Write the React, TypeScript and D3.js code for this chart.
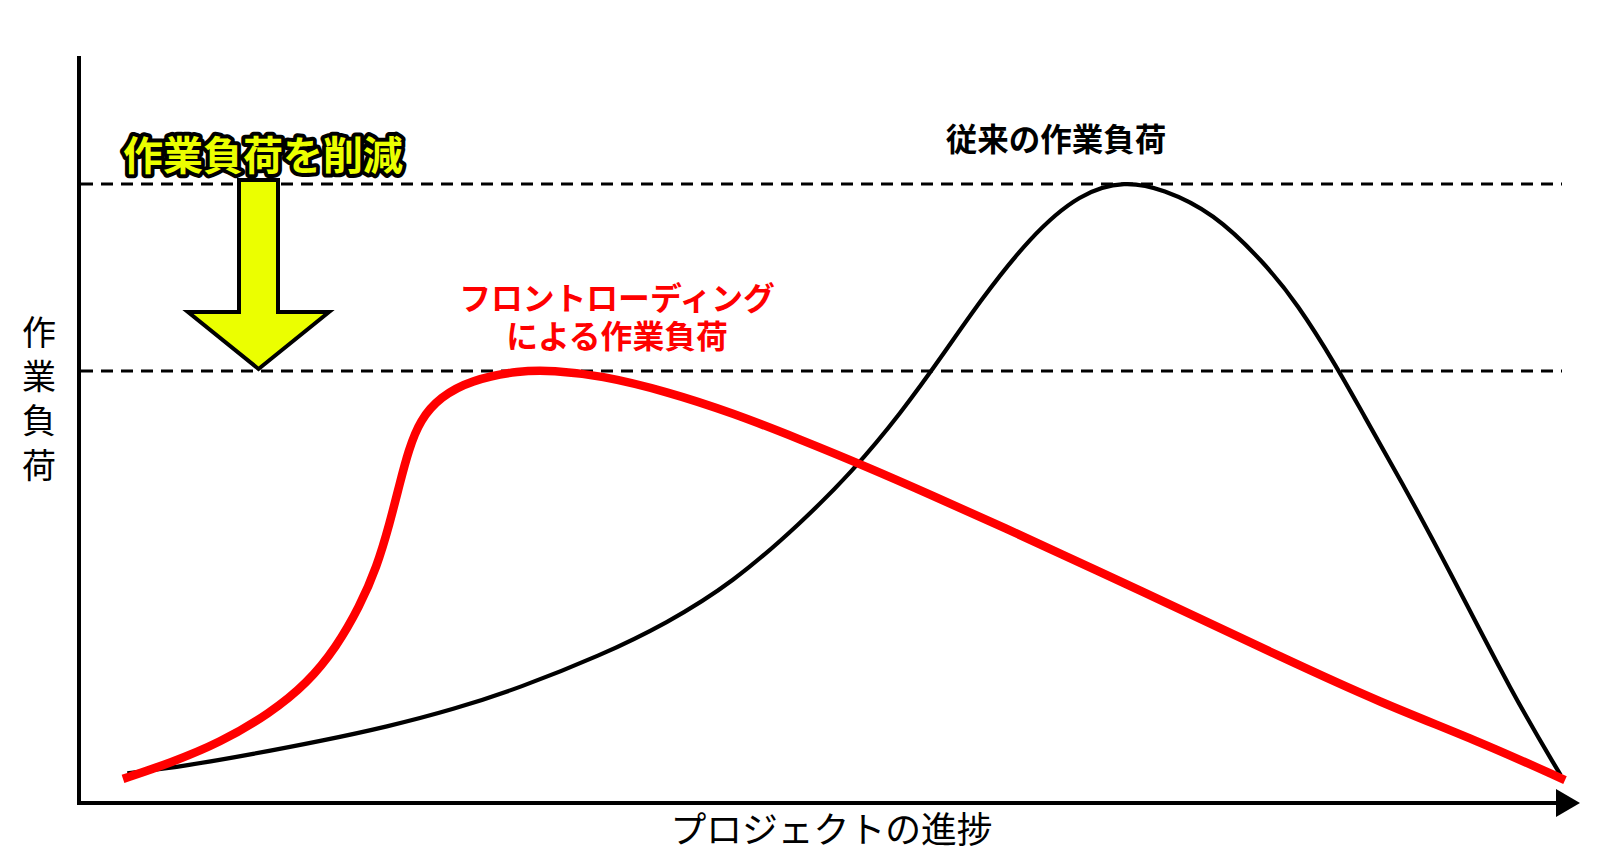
import React from "react";
import * as d3 from "d3";

// Project progress (0–100) and work load (0–100, 100 = peak of the conventional curve)
const conventionalProgress = [0.3, 4.4, 9.0, 13.7, 18.3, 22.9, 27.5, 33.1, 37.7, 42.3, 47.0, 50.6, 53.9, 57.1, 59.4, 62.9, 66.4, 69.5, 72.1, 75.6, 79.1, 81.4, 84.2, 86.0, 88.6, 91.8, 96.4, 99.7];
const conventionalLoad = [4.8, 6.0, 7.9, 10.0, 12.3, 15.1, 18.6, 23.8, 29.0, 35.6, 45.2, 53.6, 62.8, 73.2, 81.0, 91.5, 98.6, 100.5, 99.2, 95.4, 87.4, 80.8, 70.4, 62.8, 52.2, 38.4, 17.4, 4.5];

const frontProgress = [0, 3.3, 6.7, 10.2, 12.8, 14.8, 16.4, 17.6, 18.5, 19.2, 19.8, 20.6, 22.0, 24.1, 27.5, 29.8, 33.1, 37.7, 42.3, 46.9, 51.6, 56.2, 60.8, 67.8, 73.3, 80.2, 87.2, 94.1, 100];
const frontLoad = [3.9, 6.5, 9.7, 14.5, 19.4, 25.2, 31.7, 38.1, 45.2, 51.7, 57.0, 61.9, 65.6, 68.3, 69.9, 69.9, 69.1, 66.5, 63.0, 58.8, 54.3, 49.6, 44.8, 37.3, 31.3, 23.7, 16.2, 9.9, 3.7];

const peakLevels = [100, 69.8];

const yAxisLabel = ["作", "業", "負", "荷"];
const xAxisLabel = "プロジェクトの進捗";
const conventionalLabel = "従来の作業負荷";
const frontLabel = ["フロントローディング", "による作業負荷"];
const reductionLabel = "作業負荷を削減";

const FONT = "'Noto Sans CJK JP', 'Noto Sans', sans-serif";

export default function App() {
  const W = 1601;
  const H = 861;
  const x = d3.scaleLinear().domain([0, 100]).range([123, 1565]);
  const y = d3.scaleLinear().domain([0, 100]).range([803, 184]);

  const line = d3
    .line<[number, number]>()
    .x((d) => x(d[0]))
    .y((d) => y(d[1]))
    .curve(d3.curveBasis);

  const conv: [number, number][] = conventionalProgress.map((p, i) => [p, conventionalLoad[i]]);
  const front: [number, number][] = frontProgress.map((p, i) => [p, frontLoad[i]]);

  const axisX = 79;
  const axisY = 803;

  // reduction arrow (between the two peak levels)
  const ax = 258.5;
  const top = y(peakLevels[0]) - 4;
  const tip = y(peakLevels[1]) - 2;
  const shaftHalf = 19.5;
  const headHalf = 70.5;
  const headBase = tip - 57;
  const arrowPts = [
    [ax - shaftHalf, top],
    [ax + shaftHalf, top],
    [ax + shaftHalf, headBase],
    [ax + headHalf, headBase],
    [ax, tip],
    [ax - headHalf, headBase],
    [ax - shaftHalf, headBase],
  ]
    .map((p) => p.join(","))
    .join(" ");

  return (
    <svg
      width={W}
      height={H}
      style={{ position: "absolute", left: 0, top: 0, background: "#fff" }}
      fontFamily={FONT}
    >
      <rect x={0} y={0} width={W} height={H} fill="#fff" />

      {/* dashed reference lines */}
      {peakLevels.map((v, i) => (
        <line
          key={i}
          x1={axisX + 2}
          x2={1562}
          y1={y(v)}
          y2={y(v)}
          stroke="#000"
          strokeWidth={3}
          strokeDasharray="12 8"
        />
      ))}

      {/* curves */}
      <path d={line(conv) || ""} fill="none" stroke="#000" strokeWidth={4.2} />
      <path d={line(front) || ""} fill="none" stroke="#ff0000" strokeWidth={8.5} />

      {/* axes */}
      <line x1={axisX} x2={axisX} y1={56} y2={axisY + 2} stroke="#000" strokeWidth={4} />
      <line x1={axisX - 2} x2={1560} y1={axisY} y2={axisY} stroke="#000" strokeWidth={4} />
      <polygon
        points={`1556,${axisY - 14} 1580,${axisY} 1556,${axisY + 14}`}
        fill="#000"
      />

      {/* reduction arrow */}
      <polygon points={arrowPts} fill="#ebff00" stroke="#000" strokeWidth={4} strokeLinejoin="miter" />

      {/* reduction label */}
      <text
        x={263}
        y={153}
        textAnchor="middle"
        dominantBaseline="central"
        fontSize={40}
        fontWeight={700}
        fill="#ebff00"
        stroke="#000"
        strokeWidth={8}
        strokeLinejoin="round"
        paintOrder="stroke"
      >
        {reductionLabel}
      </text>

      {/* conventional label */}
      <text
        x={1056}
        y={137}
        textAnchor="middle"
        dominantBaseline="central"
        fontSize={31.5}
        fontWeight={700}
        fill="#000"
      >
        {conventionalLabel}
      </text>

      {/* front-loading label */}
      {frontLabel.map((t, i) => (
        <text
          key={i}
          x={617}
          y={296 + i * 37.5}
          textAnchor="middle"
          dominantBaseline="central"
          fontSize={31.8}
          fontWeight={700}
          fill="#ff0000"
        >
          {t}
        </text>
      ))}

      {/* y-axis label (vertical) */}
      <text textAnchor="middle" fontSize={34} fill="#000" dominantBaseline="central">
        {yAxisLabel.map((c, i) => (
          <tspan key={i} x={39} y={330 + i * 44.2}>
            {c}
          </tspan>
        ))}
      </text>

      {/* x-axis label */}
      <text
        x={831.5}
        y={827}
        textAnchor="middle"
        dominantBaseline="central"
        fontSize={35.8}
        fill="#000"
      >
        {xAxisLabel}
      </text>
    </svg>
  );
}
